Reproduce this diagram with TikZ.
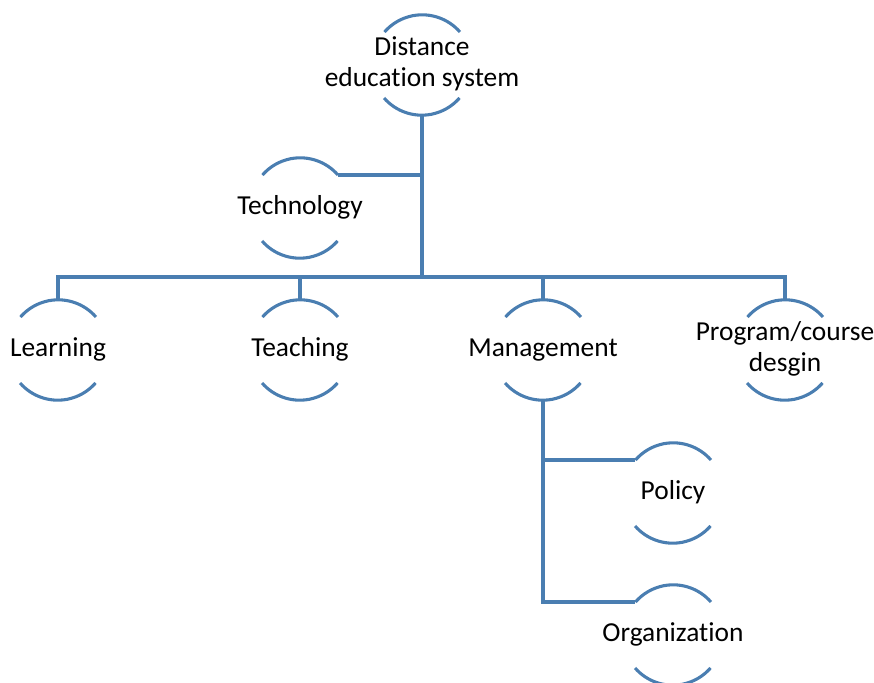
\documentclass[tikz,border=0pt]{standalone}
\usepackage{fontspec}
\setmainfont[Ligatures=NoCommon]{Carlito}
\usetikzlibrary{calc}

\definecolor{arcblue}{RGB}{74,126,177}
% text that does not widen the circle
\newcommand{\ctext}[1]{\makebox[0pt]{\raisebox{-1.4pt}{\begin{tabular}{@{}c@{}}#1\end{tabular}}}}

\tikzset{
  part/.style={circle,minimum size=2.5cm,inner sep=0pt,font=\fontsize{19.5}{21.5}\selectfont},
  link/.style={draw=arcblue,line width=2.2pt},
  arcline/.style={draw=arcblue,line width=2.2pt}
}

\begin{document}
\begin{tikzpicture}
\useasboundingbox (0,0) rectangle (21.85,17.05);
\node (dist) [part] at (10.55,15.425) {\ctext{Distance\\education system}};
\node (tech) [part] at (7.5,11.85) {\ctext{Technology}};
\node (learn) [part] at (1.45,8.3) {\ctext{Learning}};
\node (teach) [part] at (7.5,8.3) {\ctext{Teaching}};
\node (mgmt) [part] at (13.575,8.3) {\ctext{Management}};
\node (prog) [part] at (19.625,8.3) {\ctext{Program/course\\desgin}};
\node (policy) [part] at (16.825,4.725) {\ctext{Policy}};
\node (org) [part] at (16.825,1.175) {\ctext{Organization}};
\coordinate (bus) at (10.55,10.125);
% arcs above and below each label
\foreach \n in {dist,tech,learn,teach,mgmt,prog,policy,org}
  \draw[arcline] (\n.41) arc[start angle=41,end angle=139,radius=1.25cm]
                 (\n.221) arc[start angle=221,end angle=319,radius=1.25cm];
% connectors
\draw[link] (dist.south) -- (bus);
\draw[link] (tech.41) -- (tech.41 -| dist.south);
\draw[link] (learn.north) -- (learn.north |- bus) -- (prog.north |- bus) -- (prog.north);
\draw[link] (teach.north) -- (teach.north |- bus);
\draw[link] (mgmt.north) -- (mgmt.north |- bus);
\draw[link] (mgmt.south) |- (policy.139);
\draw[link] (mgmt.south) |- (org.139);
\end{tikzpicture}
\end{document}
